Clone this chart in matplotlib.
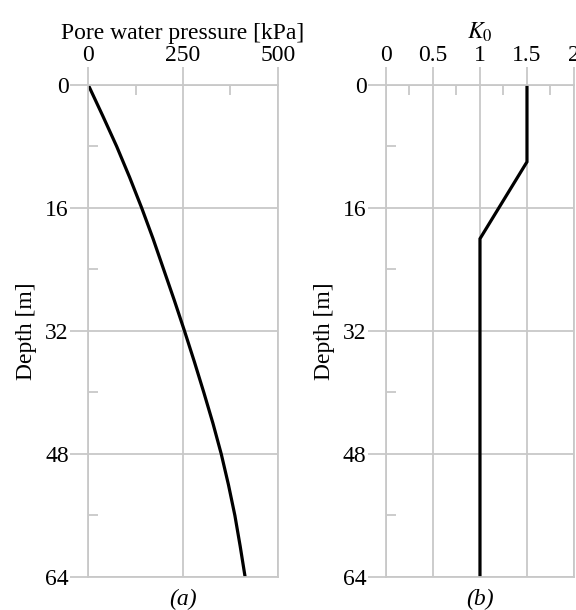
import matplotlib
matplotlib.use("Agg")
import matplotlib.pyplot as plt
from matplotlib.ticker import MultipleLocator

plt.rcParams['font.family'] = ['Liberation Serif', 'DejaVu Serif']
plt.rcParams['mathtext.fontset'] = 'stix'

# pore water pressure profile
depth_u = [0, 4, 8, 12, 16, 20, 24, 28, 32, 36, 40, 44, 48, 52, 56, 60, 64]
pwp = [0, 38, 75, 109, 141, 171, 199, 227, 254, 280, 305, 329, 351, 370, 387, 401, 414]

# K0 profile
depth_k = [0, 10, 20, 64]
k0 = [1.5, 1.5, 1.0, 1.0]

depth_ticks = [0, 16, 32, 48, 64]
u_ticks = [0, 250, 500]
k_ticks = [0, 0.5, 1, 1.5, 2]
k_labels = ['0', '0.5', '1', '1.5', '2']

grey = '#c8c8c8'
fs = 17


def style_axis(ax):
    ax.set_ylim(64, 0)
    ax.xaxis.tick_top()
    ax.xaxis.set_label_position('top')
    ax.set_yticks(depth_ticks)
    ax.yaxis.set_minor_locator(MultipleLocator(8))
    ax.grid(True, which='major', color=grey, linewidth=1.3)
    ax.tick_params(which='major', direction='out', length=13, width=1.3,
                   color=grey, labelsize=fs, pad=1)
    ax.tick_params(which='minor', direction='in', length=7, width=1.3,
                   color=grey)
    ax.tick_params(axis='x', which='both', top=True, bottom=False)
    ax.tick_params(axis='y', which='both', left=True, right=False)
    for s in ax.spines.values():
        s.set_color(grey)
        s.set_linewidth(1.3)
    ax.set_ylabel('Depth [m]', fontsize=fs, labelpad=6)


fig = plt.figure(figsize=(5.76, 6.1), dpi=100)
ax1 = fig.add_axes([0.1533, 0.0541, 0.3288, 0.8066])
ax2 = fig.add_axes([0.6701, 0.0541, 0.3264, 0.8066])

ax1.plot(pwp, depth_u, color='black', linewidth=2.3, solid_joinstyle='round')
ax1.set_xlim(0, 500)
ax1.set_xticks(u_ticks)
ax1.xaxis.set_minor_locator(MultipleLocator(125))
style_axis(ax1)
ax1.set_xlabel('Pore water pressure [kPa]', fontsize=fs, labelpad=4)
ax1.text(0.5, -0.045, '(a)', transform=ax1.transAxes, ha='center', va='center',
         fontsize=fs, style='italic')

ax2.plot(k0, depth_k, color='black', linewidth=2.3, solid_joinstyle='miter')
ax2.set_xlim(0, 2)
ax2.set_xticks(k_ticks)
ax2.set_xticklabels(k_labels)
ax2.xaxis.set_minor_locator(MultipleLocator(0.25))
style_axis(ax2)
ax2.set_xlabel(r'$\mathit{K_0}$', fontsize=fs, labelpad=4)
ax2.text(0.5, -0.045, '(b)', transform=ax2.transAxes, ha='center', va='center',
         fontsize=fs, style='italic')

for ax in (ax1, ax2):
    for lab in ax.get_xticklabels():
        lab.set_clip_on(False)

fig.savefig('out.png', dpi=100)
